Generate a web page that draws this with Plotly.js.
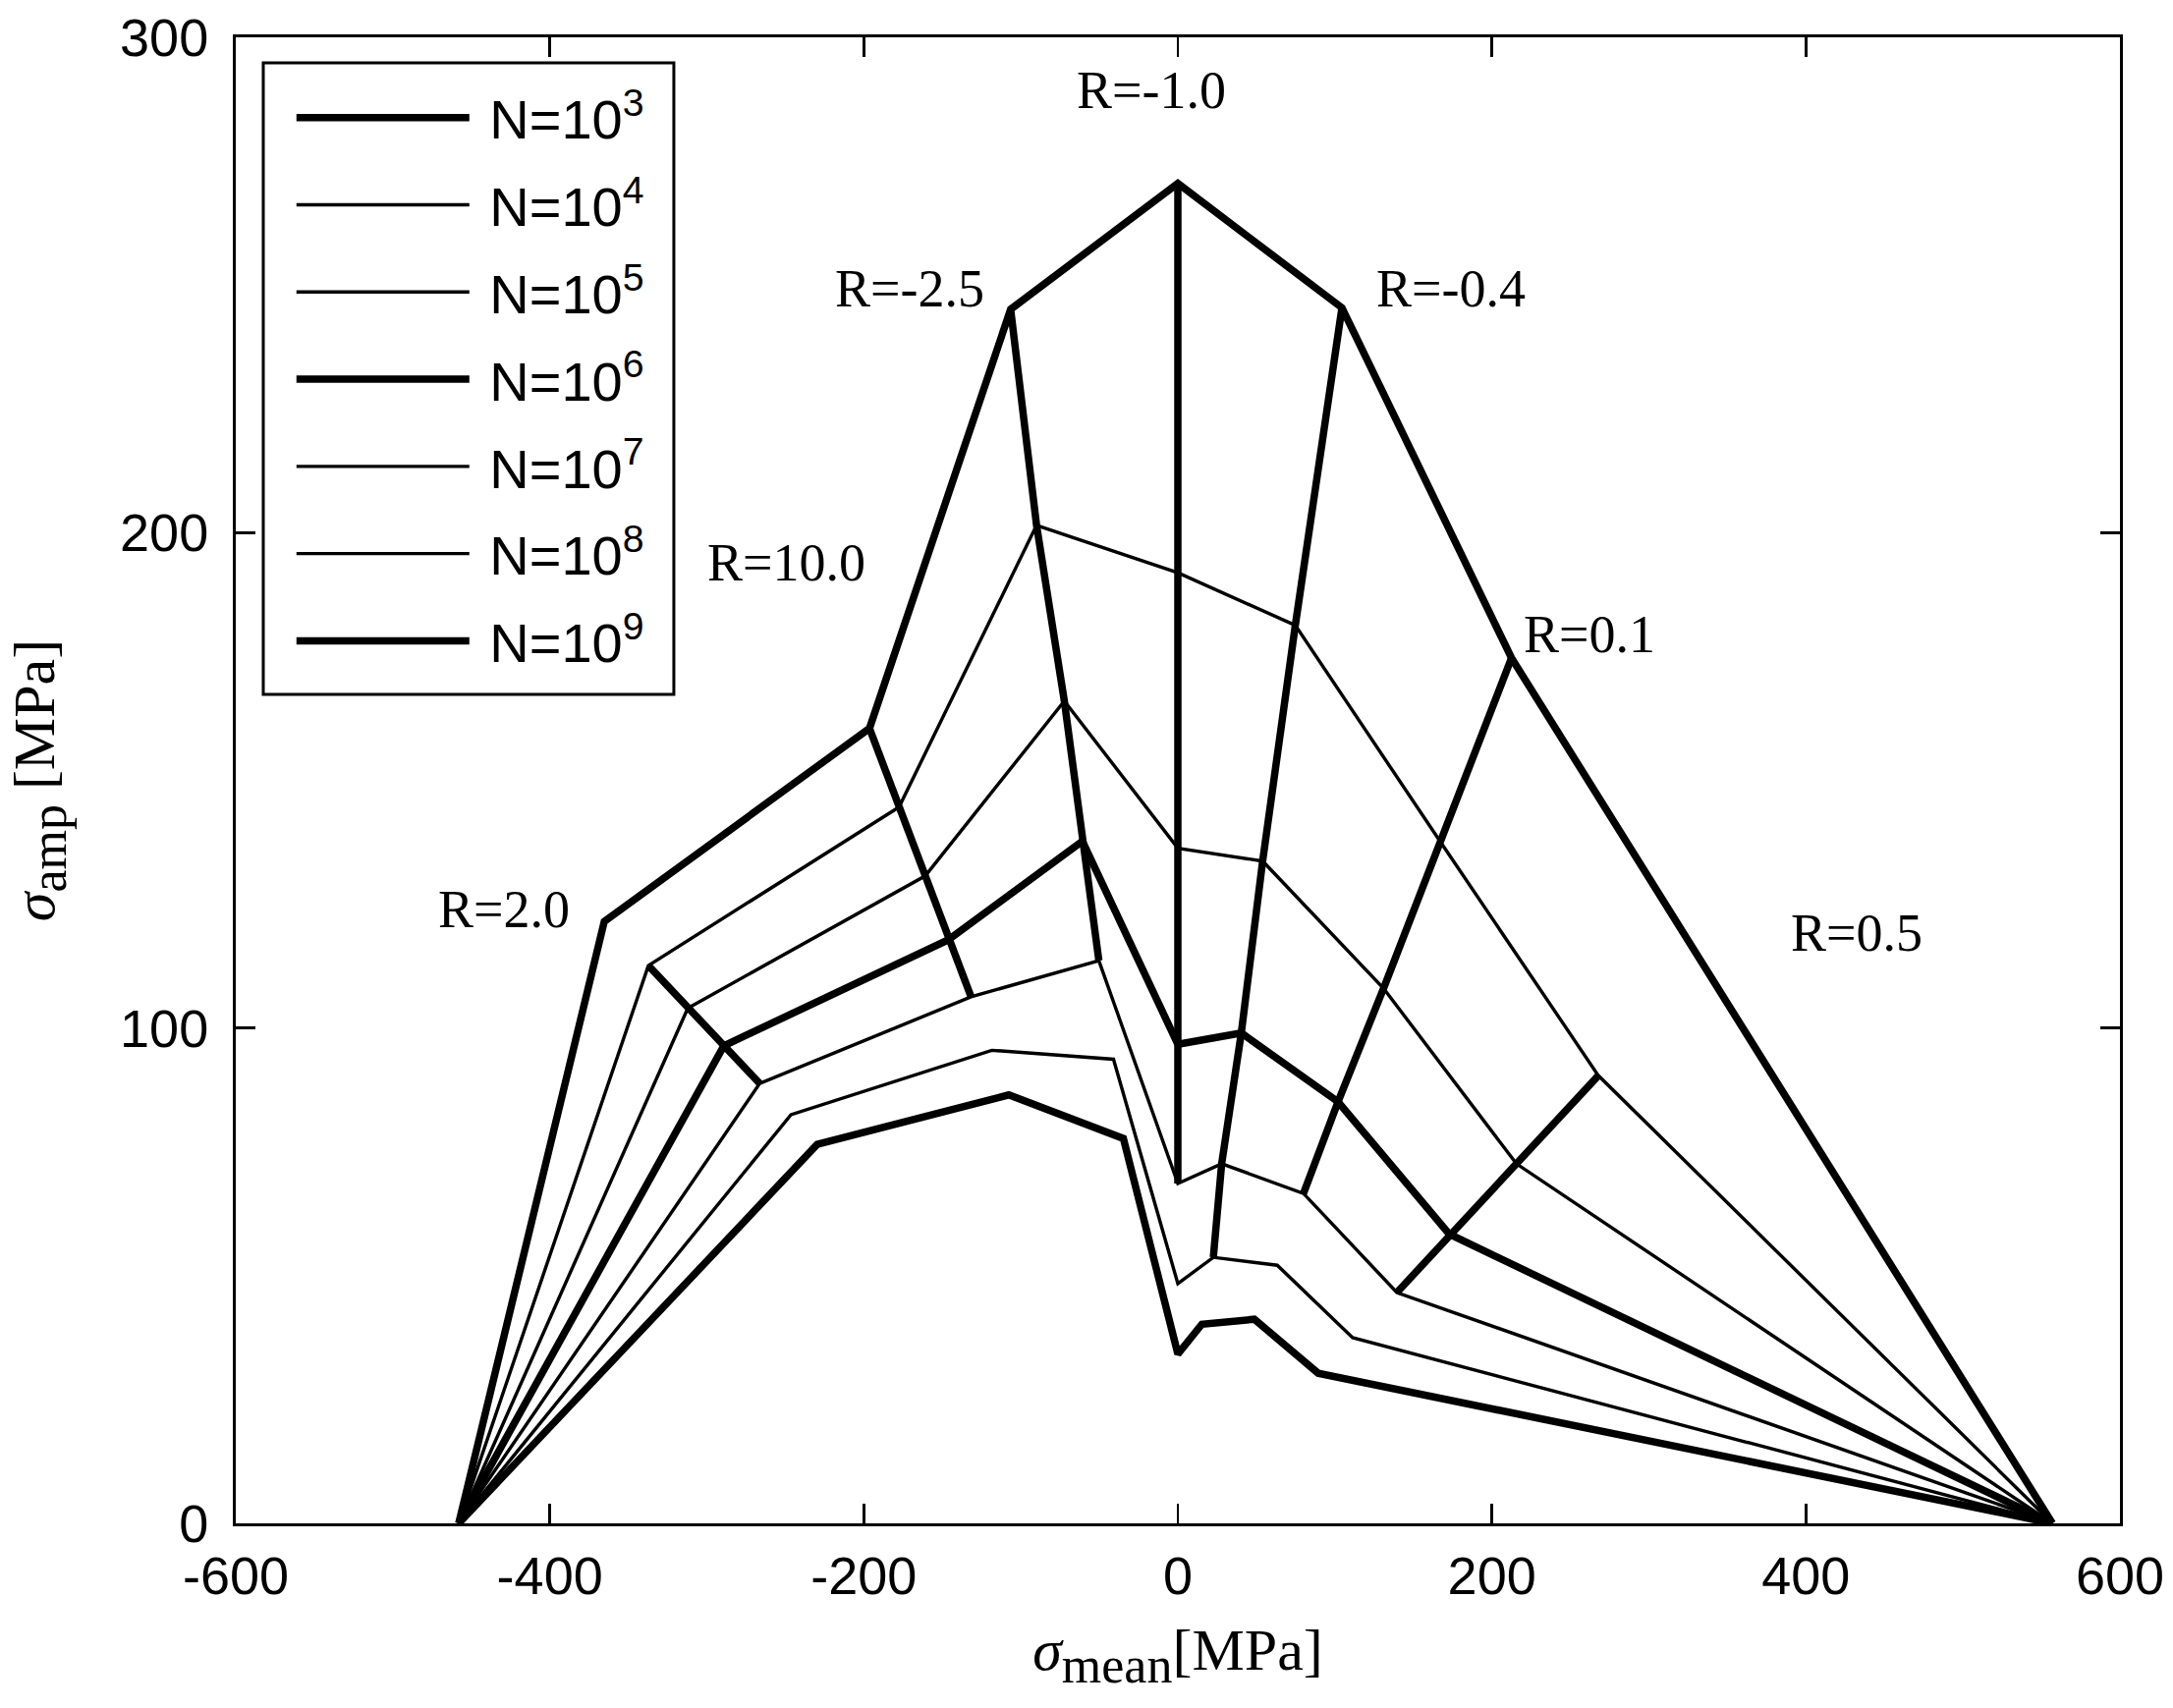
<!DOCTYPE html>
<html>
<head>
<meta charset="utf-8">
<script src="https://cdn.plot.ly/plotly-3.0.1.min.js"></script>
<style>html,body{margin:0;padding:0;background:#fff;}#chart{width:2212px;height:1739px;}</style>
</head>
<body>
<div id="chart"></div>
<script>
// ---- data ----
const R_VALUES = ['2.0', '10.0', '-2.5', '-1.0', '-0.4', '0.1', '0.5'];
const N_LABELS = ['N=10<sup>3</sup>', 'N=10<sup>4</sup>', 'N=10<sup>5</sup>', 'N=10<sup>6</sup>',
                  'N=10<sup>7</sup>', 'N=10<sup>8</sup>', 'N=10<sup>9</sup>'];
const X_TICKS = [-600, -400, -200, 0, 200, 400, 600];
const X_TICK_TEXT = ['-600', '-400', '-200', '0', '200', '400', '600'];
const Y_TICKS = [0, 100, 200, 300];
const Y_TICK_TEXT = ['0', '100', '200', '300'];
const COMPRESSIVE_STRENGTH = -458;   // sigma_mean at sigma_amp = 0 (left end)
const TENSILE_STRENGTH = 557;        // sigma_mean at sigma_amp = 0 (right end)

// mean stress at each R (order of R_VALUES) for each N
const meanN3 = [-365.3, -196.4, -106.5, 0, 104.5, 212.5, null];
const meanN4 = [-337.2, -177.6, -90.0, 0, 74.8, 167.6, 267.8];
const meanN5 = [-312.1, -160.9, -72.3, 0, 54.0, 131.0, 215.6];
const meanN6 = [-289.2, -146.3, -60.8, 0, 40.4, 102.0, 172.8];
const meanN7 = [-266.3, -131.7, -50.3, 0, 27.9, 80.0, 139.5];
const meanN8 = [-246.4, -118.5, -41.0, 0, 22.6, 63.3, 111.3];
const meanN9 = [-229.7, -107.7, -34.7, 0, 15.3, 48.7, 89.4];

// stress amplitude at each R for each N
const ampN3 = [121.5, 160.5, 245.1, 270.5, 245.4, 174.7, null];
const ampN4 = [112.6, 144.6, 201.5, 191.9, 181.3, 137.4, 90.4];
const ampN5 = [104.0, 130.7, 166.0, 136.3, 133.7, 108.0, 72.6];
const ampN6 = [96.4, 117.8, 137.7, 96.7, 99.0, 85.1, 58.4];
const ampN7 = [88.8, 106.3, 113.6, 68.6, 72.6, 66.6, 46.6];
const ampN8 = [82.5, 95.5, 93.7, 48.4, 53.7, 52.1, 37.5];
const ampN9 = [76.5, 86.5, 77.7, 34.2, 40.2, 41.2, 30.3];

// range of N levels (index into N_LABELS) covered by each constant-R line
const R_FIRST_N = [1, 0, 0, 0, 0, 0, 1];
const R_LAST_N  = [4, 4, 4, 4, 5, 4, 4];

// ---- build traces ----
const MEAN = [meanN3, meanN4, meanN5, meanN6, meanN7, meanN8, meanN9];
const AMP  = [ampN3, ampN4, ampN5, ampN6, ampN7, ampN8, ampN9];
const THICK = 7.5, THIN = 3.4;
const isThick = i => (i === 0 || i === 3 || i === 6);

const traces = [];
MEAN.forEach((m, i) => {
  traces.push({
    type: 'scatter', mode: 'lines',
    x: [COMPRESSIVE_STRENGTH].concat(m, [TENSILE_STRENGTH]),
    y: [0].concat(AMP[i], [0]),
    connectgaps: true,
    name: '\u00A0' + N_LABELS[i],
    legendgroup: 'g' + i,
    line: {color: '#000', width: isThick(i) ? THICK : THIN},
    hoverinfo: 'skip'
  });
});
R_VALUES.forEach((r, j) => {
  const xs = [], ys = [];
  for (let k = R_FIRST_N[j]; k <= R_LAST_N[j]; k++) { xs.push(MEAN[k][j]); ys.push(AMP[k][j]); }
  traces.push({
    type: 'scatter', mode: 'lines', x: xs, y: ys,
    name: 'R=' + r, showlegend: false,
    line: {color: '#000', width: THICK}, hoverinfo: 'skip'
  });
});

// label placement for the R annotations (layout only)
const R_LABEL_POS = [[-429, 124], [-249.6, 194], [-171, 249.3], [-16.8, 289.3],
                     [174, 249.3], [262.3, 179.5], [432.3, 119.2]];
const annotations = R_VALUES.map((r, j) => ({
  x: R_LABEL_POS[j][0], y: R_LABEL_POS[j][1], xref: 'x', yref: 'y',
  text: 'R=' + r, showarrow: false,
  font: {family: 'Liberation Serif, Times New Roman, serif', size: 54, color: '#000'}
}));

const axisCommon = {
  showgrid: false, zeroline: false, showline: true, linecolor: '#000', linewidth: 3,
  mirror: 'ticks', ticks: 'inside', ticklen: 20, tickwidth: 2.5, tickcolor: '#000',
  tickfont: {family: 'Liberation Sans, Arial, sans-serif', size: 54, color: '#000'},
  tickmode: 'array', automargin: false, fixedrange: true
};

const layout = {
  width: 2212, height: 1739,
  margin: {l: 240, r: 54, t: 38, b: 188, pad: 0},
  paper_bgcolor: '#fff', plot_bgcolor: '#fff',
  showlegend: true,
  legend: {
    x: 0.0296, y: 0.9744, xanchor: 'left', yanchor: 'top',
    bgcolor: 'rgba(0,0,0,0)', borderwidth: 0,
    font: {family: 'Liberation Sans, Arial, sans-serif', size: 56, color: '#000'},
    itemwidth: 176, tracegroupgap: 13
  },
  shapes: [{
    type: 'rect', xref: 'paper', yref: 'paper',
    x0: 0.0146, x1: 0.2325, y0: 0.5578, y1: 0.9828,
    line: {color: '#000', width: 3}, fillcolor: '#fff', layer: 'below'
  }],
  xaxis: Object.assign({}, axisCommon, {
    range: [-600, 600], tickvals: X_TICKS, ticktext: X_TICK_TEXT, ticklabelstandoff: 4,
    title: {text: '<i>σ</i><sub><span style="font-size:52px">mean</span></sub>[MPa]', standoff: 26,
            font: {family: 'Liberation Serif, Times New Roman, serif', size: 60, color: '#000'}}
  }),
  yaxis: Object.assign({}, axisCommon, {
    range: [0, 300], tickvals: Y_TICKS, ticktext: Y_TICK_TEXT, ticklabelstandoff: 14,
    title: {text: '<i>σ</i><sub><span style="font-size:52px">amp</span></sub> [MPa]', standoff: 48,
            font: {family: 'Liberation Serif, Times New Roman, serif', size: 60, color: '#000'}}
  }),
  annotations: annotations
};

Plotly.newPlot('chart', traces, layout, {displayModeBar: false, staticPlot: true});
</script>
</body>
</html>
